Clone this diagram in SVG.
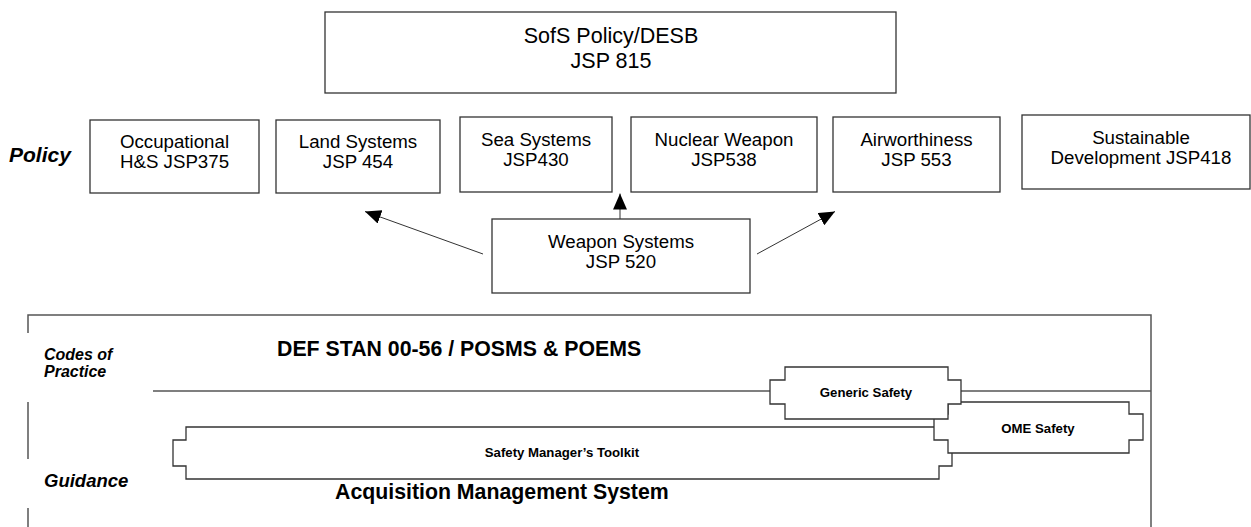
<svg xmlns="http://www.w3.org/2000/svg" width="1251" height="527" viewBox="0 0 1251 527">
<style>
.box{fill:#fff;stroke:#333;stroke-width:1.3}
.frame{fill:none;stroke:#555;stroke-width:1.5}
.t{font-family:"Liberation Sans",Arial,sans-serif;font-size:18.7px;fill:#000;text-anchor:middle}
.big{font-size:21.5px}
.lab{font-family:"Liberation Sans",Arial,sans-serif;font-weight:bold;font-style:italic;fill:#000}
.hd{font-family:"Liberation Sans",Arial,sans-serif;font-weight:bold;font-size:21.3px;fill:#000}
.sm{font-family:"Liberation Sans",Arial,sans-serif;font-weight:bold;font-size:13.2px;fill:#000;text-anchor:middle}
.conn{fill:none;stroke:#333;stroke-width:1}
</style>
<defs>
<marker id="ah" markerUnits="userSpaceOnUse" viewBox="0 0 16 14" refX="16" refY="7" markerWidth="16" markerHeight="14" orient="auto">
<path d="M0,0 L16,7 L0,14 z" fill="#000"/>
</marker>
</defs>

<!-- labels -->
<text class="lab" x="9" y="162" font-size="21px">Policy</text>
<text class="lab" x="44" y="360" font-size="16px">Codes of</text>
<text class="lab" x="44" y="377" font-size="16px">Practice</text>
<text class="lab" x="44" y="487" font-size="18.5px">Guidance</text>

<!-- outer frame of codes/guidance area -->
<g id="frame">
<path class="frame" d="M28,333 V315 H1151 V527"/>
<path class="frame" d="M28,402 V459"/>
<path class="frame" d="M28,508 V527"/>
<path class="frame" d="M153,391 H770 M961,391 H1151"/>
<text class="hd" x="277" y="356">DEF STAN 00-56 / POSMS &amp; POEMS</text>
<text class="hd" x="335" y="499">Acquisition Management System</text>
</g>

<g id="sofs">
<rect class="box" x="325" y="12" width="571" height="81"/>
<text class="t big" x="611" y="42.5">SofS Policy/DESB</text>
<text class="t big" x="611" y="67.5">JSP 815</text>
</g>

<g id="occupational">
<rect class="box" x="90" y="120" width="169" height="73"/>
<text class="t" x="174.5" y="148">Occupational</text>
<text class="t" x="174.5" y="168">H&amp;S JSP375</text>
</g>

<g id="land">
<rect class="box" x="276" y="120" width="164" height="73"/>
<text class="t" x="358" y="148">Land Systems</text>
<text class="t" x="358" y="168">JSP 454</text>
</g>

<g id="sea">
<rect class="box" x="460" y="117" width="152" height="75"/>
<text class="t" x="536" y="146">Sea Systems</text>
<text class="t" x="536" y="166">JSP430</text>
</g>

<g id="nuclear">
<rect class="box" x="631" y="117" width="186" height="75"/>
<text class="t" x="724" y="146">Nuclear Weapon</text>
<text class="t" x="724" y="166">JSP538</text>
</g>

<g id="air">
<rect class="box" x="833" y="117" width="167" height="75"/>
<text class="t" x="916.5" y="146">Airworthiness</text>
<text class="t" x="916.5" y="166">JSP 553</text>
</g>

<g id="sustainable">
<rect class="box" x="1022" y="115" width="228" height="74"/>
<text class="t" x="1141" y="144">Sustainable</text>
<text class="t" x="1141" y="164">Development JSP418</text>
</g>

<g id="weapon">
<rect class="box" x="492" y="219" width="258" height="74"/>
<text class="t" x="621" y="248">Weapon Systems</text>
<text class="t" x="621" y="268">JSP 520</text>
</g>

<g id="connectors">
<path class="conn" d="M483,254 L365,211.5" marker-end="url(#ah)"/>
<path class="conn" d="M620,219 L620,193.5" marker-end="url(#ah)"/>
<path class="conn" d="M757,254 L835,211.5" marker-end="url(#ah)"/>
</g>

<g id="toolkit">
<path class="box" d="M186,427 H952 V440 H952 V466 H939 V479 H186 V466 H173 V440 H186 Z"/>
<text class="sm" x="562" y="457">Safety Manager’s Toolkit</text>
</g>

<g id="ome">
<path class="box" d="M948,402 H1129 V414 H1143 V440 H1129 V453 H948 V440 H934 V414 H948 Z"/>
<text class="sm" x="1038" y="433">OME Safety</text>
</g>

<g id="generic">
<path class="box" d="M785,367 H948 V380 H961 V404 H948 V419 H785 V404 H770 V380 H785 Z"/>
<text class="sm" x="866" y="397">Generic Safety</text>
</g>
</svg>
